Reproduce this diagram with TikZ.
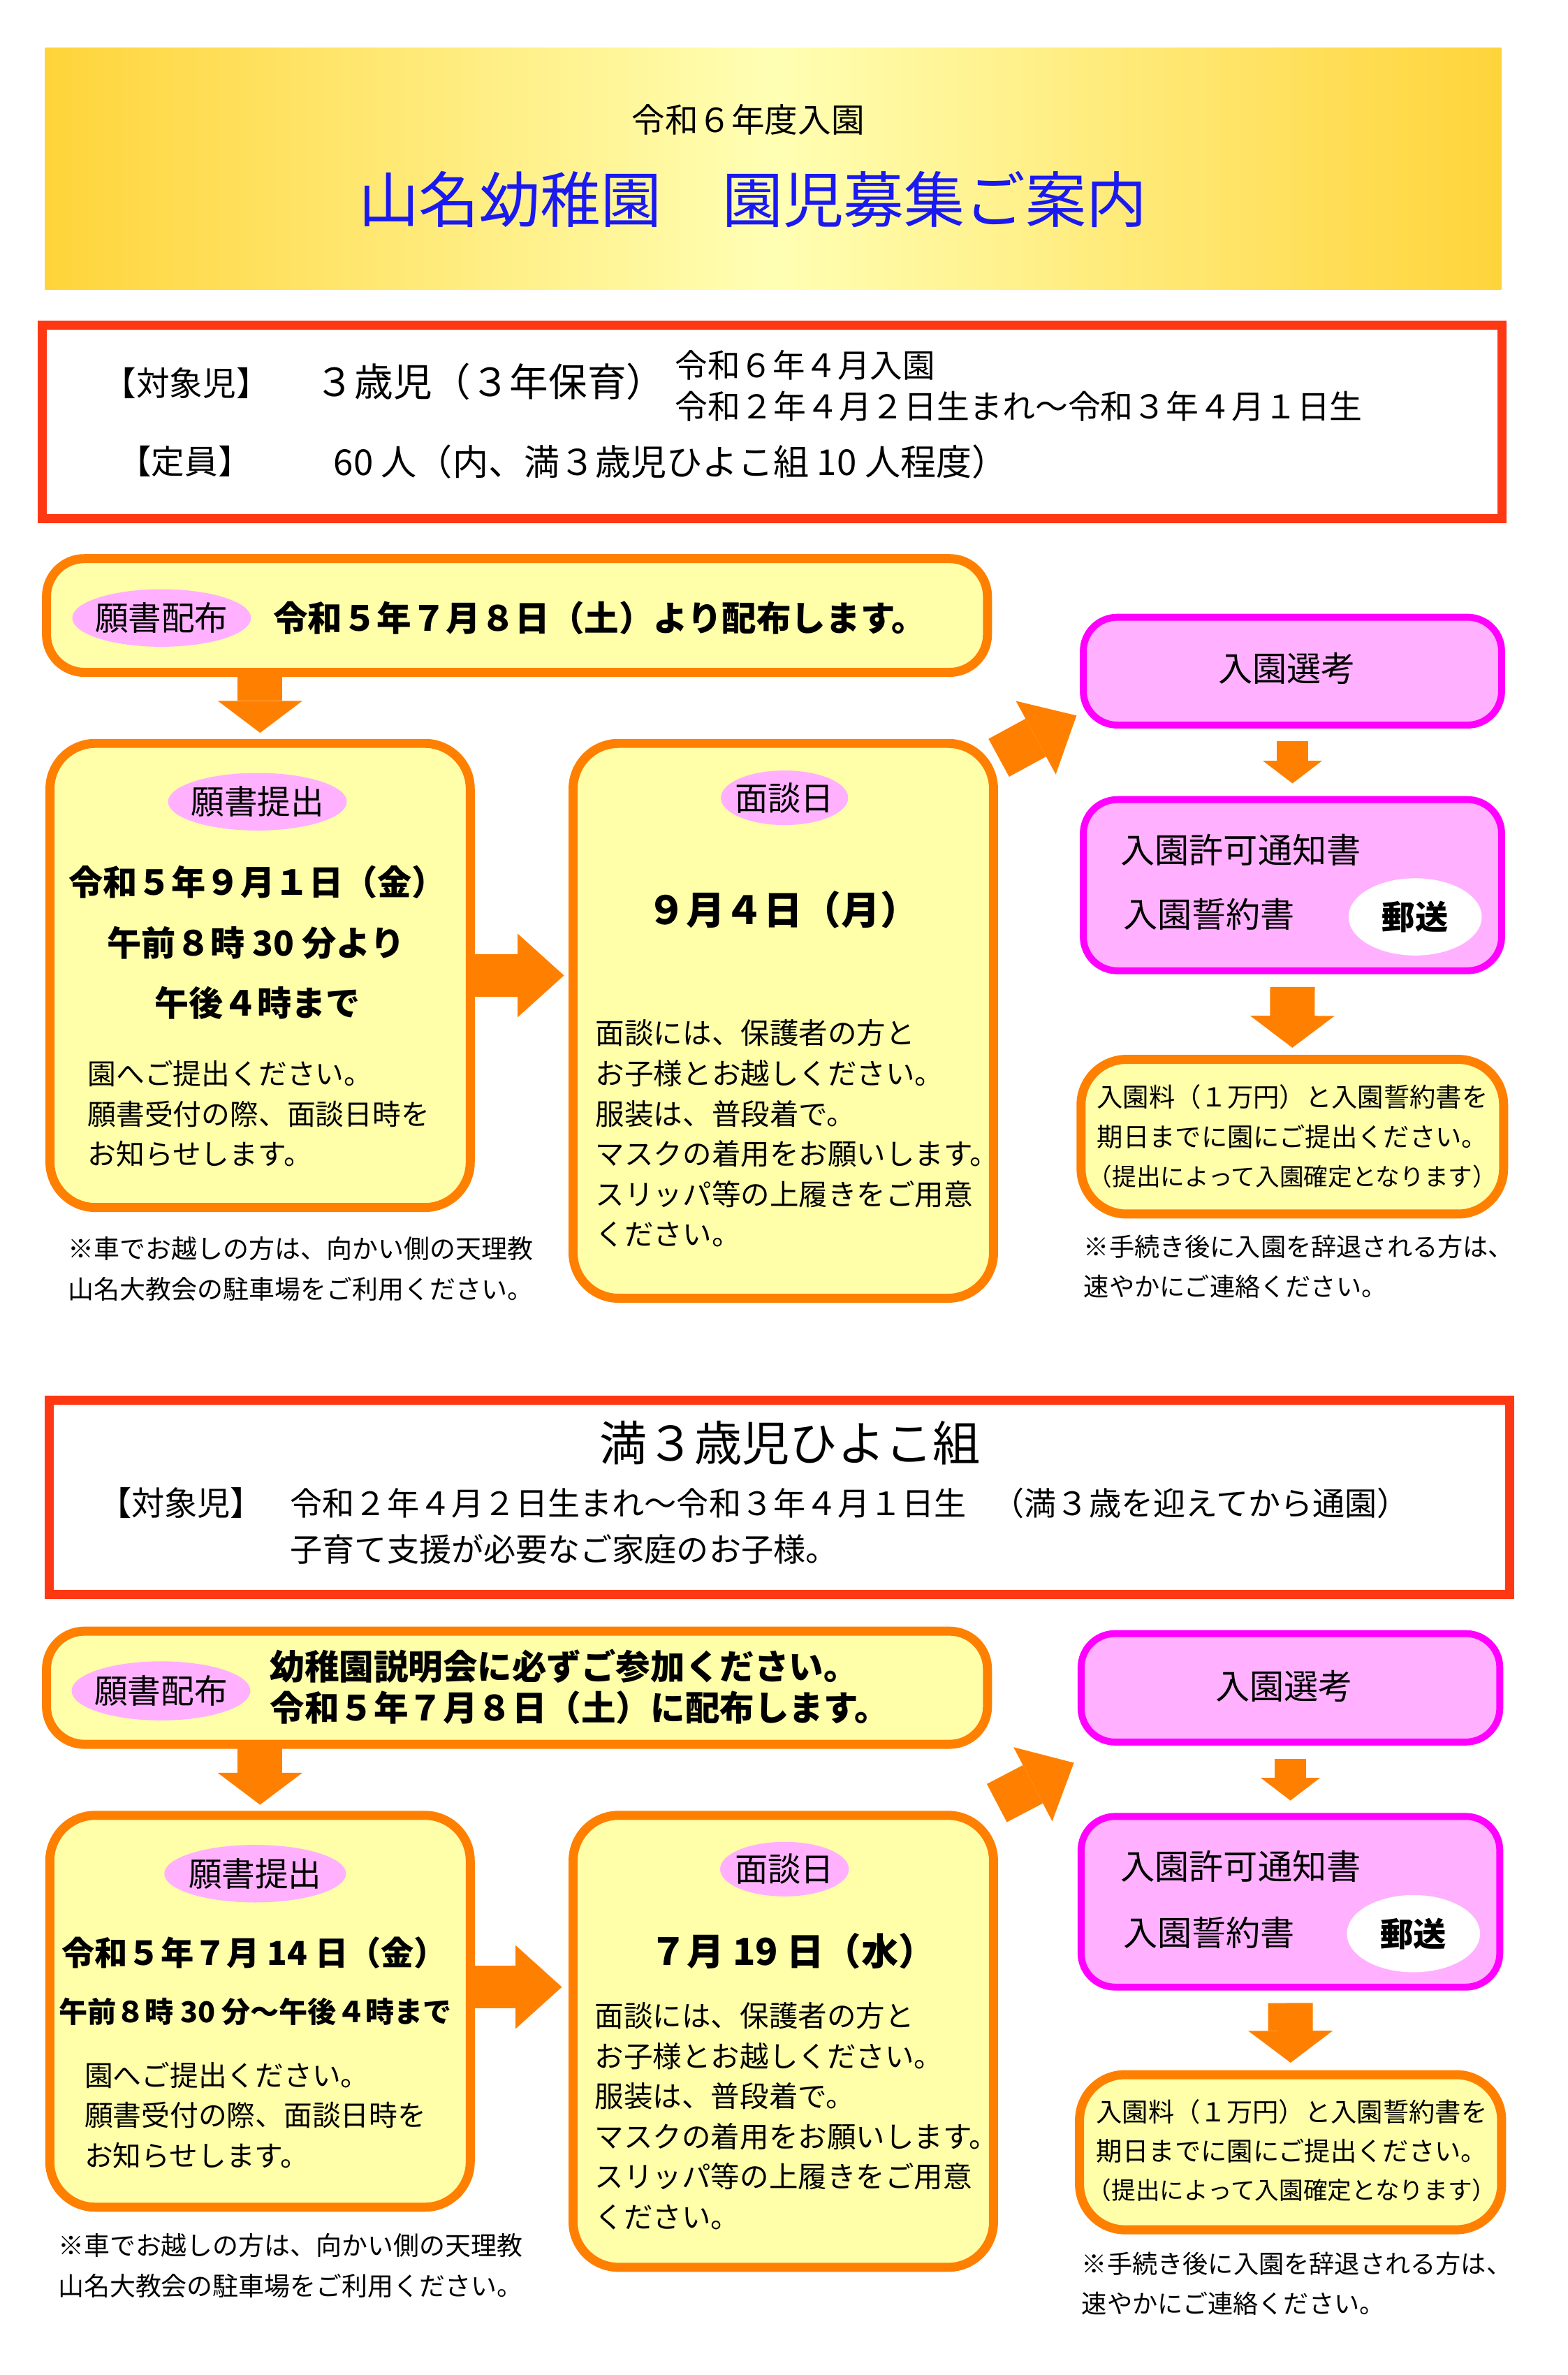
\documentclass[tikz,border=0pt]{standalone}
\usepackage{fontspec}
\setmainfont{Noto Sans CJK JP}
\usetikzlibrary{calc, fit, shapes.geometric, arrows.meta}
\newcommand{\fsz}[1]{\fontsize{#1}{#1}\selectfont}
\newcommand{\fsl}[2]{\fontsize{#1}{#2}\selectfont}
\definecolor{boxorange}{HTML}{FF8000}
\definecolor{paleyellow}{HTML}{FFFFAA}
\definecolor{lightpink}{HTML}{FFB0FF}
\definecolor{magentaline}{HTML}{FF00FF}
\definecolor{redline}{HTML}{FF3814}
\definecolor{bannergold}{HTML}{FFD43A}
\definecolor{bannerpale}{HTML}{FFFFB4}
\definecolor{titleblue}{HTML}{1A1AF0}
\tikzset{
  banner/.style={inner sep=0pt, outer sep=0pt, left color=bannergold, right color=bannergold, middle color=bannerpale},
  frame/.style={draw=redline, line width=3.4pt, fill=white, inner sep=0pt, outer sep=0pt},
  ybox/.style={draw=boxorange, line width=3.4pt, fill=paleyellow, rounded corners=#1, inner sep=0pt, outer sep=0pt},
  ybox/.default=0.5cm,
  pbox/.style={draw=magentaline, line width=2.6pt, fill=lightpink, rounded corners=0.45cm, inner sep=0pt, outer sep=0pt},
  tag/.style args={#1/#2}{ellipse, fill=lightpink, inner sep=0pt, minimum width=#1*0.02cm, minimum height=#2*0.02cm},
  post/.style={ellipse, fill=white, inner sep=0pt, minimum width=88*0.02cm, minimum height=51*0.02cm},
  txt/.style={anchor=west, inner sep=0pt},
  downarrow/.style={draw=boxorange, line width=16.8pt, -{Triangle[width=31.8pt, length=12pt, line width=0pt]}},
  sidearrow/.style={draw=boxorange, line width=16.2pt, -{Triangle[width=31.4pt, length=17.4pt, line width=0pt]}},
  smallarrow/.style={draw=boxorange, line width=11.8pt, -{Triangle[width=22.3pt, length=8.5pt, line width=0pt]}},
}
\begin{document}
\begin{tikzpicture}[x=0.02cm, y=-0.02cm]
    \useasboundingbox (0,0) rectangle (1035,1568);
    % heading
    \node[banner, fit={(29.7,31.8) (991.3,191)}] (00) {};
    \node[font=\fsz{12.5pt}] (01) at (494,78.8) {令和６年度入園};
    \node[font=\fsz{22.8pt}, text=titleblue] (02) at (497,131.8) {山名幼稚園　園児募集ご案内};
    % three year class
    \node[frame, fit={(28,214.8) (991.6,342.4)}] (10) {};
    \node[font=\fsz{12.5pt}] (10a) at (123,253) {【対象児】};
    \node[txt, font=\fsz{14.6pt}] (10b) at (208,251.8) {３歳児（３年保育）};
    \node[txt, font=\fsz{12.2pt}] (10c) at (445.5,241) {令和６年４月入園};
    \node[txt, font=\fsz{12.3pt}] (10d) at (445.5,268) {令和２年４月２日生まれ～令和３年４月１日生};
    \node[font=\fsz{12.5pt}] (10e) at (122,304.7) {【定員】};
    \node[txt, font=\fsz{13.4pt}] (10f) at (220,304.7) {60 人（内、満３歳児ひよこ組 10 人程度）};
    % boxes
    \node[ybox, fit={(30.7,368.8) (652,443.9)}] (11) {};
    \node[pbox, fit={(715.3,407.5) (991.5,478.7)}] (13) {};
    \node[ybox=0.6cm, fit={(33,490.8) (310.5,797.2)}] (21) {};
    \node[ybox=0.6cm, fit={(378.4,490.8) (656,857.1)}] (22) {};
    \node[pbox, fit={(715.3,527.9) (991.5,640.9)}] (23) {};
    \node[ybox=0.6cm, fit={(713.8,699.4) (992.8,801.5)}] (33) {};
    % vertical arrows
    \draw[downarrow] (11.south -| 21.north) -- ($(21.north)+(0,-7)$);
    \draw[smallarrow] ($(13.south)+(0,10.7)$) -- ($(23.north)+(0,-10.7)$);
    \draw[downarrow] ($(23.south)+(0,10.7)$) -- ($(33.north)+(0,-7.7)$);
    % horizontal arrows
    \draw[sidearrow] (21.east) -- ($(21.east -| 22.west)+(-6,0)$);
    \draw[sidearrow] ($(22.north east)+(3.5,9.5)$) -- ($(13.south west)+(-4.5,-6.3)$);
    % texts
    \node[tag=118/38] (11a) at (106.7,408) {};
    \node[font=\fsz{12.5pt}] (11b) at (11a) {願書配布};
    \node[txt, font=\fsz{13pt}\bfseries] (11c) at (180,408) {令和５年７月８日（土）より配布します。};
    \node[font=\fsz{12.9pt}] (13a) at (849.8,441.5) {入園選考};
    \node[tag=118/38] (21a) at (170,529.3) {};
    \node[font=\fsz{12.5pt}] (21b) at (21a) {願書提出};
    \node[font=\fsz{12.9pt}\bfseries] (21c) at (170,582.5) {令和５年９月１日（金）};
    \node[font=\fsz{12.9pt}\bfseries] (21d) at (169,622.4) {午前８時 30 分より};
    \node[font=\fsz{12.9pt}\bfseries] (21e) at (170,662.3) {午後４時まで};
    \node[txt, align=left, font=\fsl{10.7pt}{15.1pt}] (21f) at (57.6,735.4) {園へご提出ください。\\願書受付の際、面談日時を\\お知らせします。};
    \node[txt, align=left, font=\fsl{9.7pt}{15pt}] (21g) at (44.8,837.7) {※車でお越しの方は、向かい側の天理教\\山名大教会の駐車場をご利用ください。};
    \node[tag=84/36] (22a) at (518,526.7) {};
    \node[font=\fsz{12.4pt}] (22b) at (22a) {面談日};
    \node[font=\fsz{14.6pt}\bfseries] (22c) at (517,600.8) {９月４日（月）};
    \node[txt, align=left, font=\fsl{10.9pt}{15.1pt}] (22d) at (393,748.3) {面談には、保護者の方と\\お子様とお越しください。\\服装は、普段着で。\\マスクの着用をお願いします。\\スリッパ等の上履きをご用意\\ください。};
    \node[txt, font=\fsz{12.9pt}] (23a) at (739.6,561.4) {入園許可通知書};
    \node[txt, font=\fsz{12.9pt}] (23b) at (741.4,603.7) {入園誓約書};
    \node[post] (23c) at (934.4,605.3) {};
    \node[font=\fsz{12.4pt}\bfseries] (23d) at (23c) {郵送};
    \node[font=\fsz{9.8pt}] (33a) at (853.4,724.2) {入園料（１万円）と入園誓約書を};
    \node[font=\fsz{9.8pt}] (33b) at (853.4,750.4) {期日までに園にご提出ください。};
    \node[font=\fsz{9.1pt}] (33c) at (853.4,776.7) {（提出によって入園確定となります）};
    \node[txt, align=left, font=\fsl{9.5pt}{14.9pt}] (33d) at (715.3,836.2) {※手続き後に入園を辞退される方は、\\速やかにご連絡ください。};
    % chick class
    \node[frame, fit={(32.7,924.5) (997,1052.8)}] (40) {};
    \node[font=\fsz{17.9pt}] (40a) at (521.5,952.8) {満３歳児ひよこ組};
    \node[font=\fsz{12.4pt}] (40b) at (119.5,992.4) {【対象児】};
    \node[txt, font=\fsz{12.1pt}] (40c) at (191.4,992.4) {令和２年４月２日生まれ～令和３年４月１日生\hspace{0.8em}（満３歳を迎えてから通園）};
    \node[txt, font=\fsz{12.1pt}] (40d) at (191.4,1022.8) {子育て支援が必要なご家庭のお子様。};
    % boxes
    \node[ybox, fit={(30.7,1076.9) (652,1151.6)}] (41) {};
    \node[pbox, fit={(713.8,1078.5) (990.3,1150.1)}] (43) {};
    \node[ybox=0.6cm, fit={(32.9,1198.5) (310.5,1457.2)}] (51) {};
    \node[ybox=0.6cm, fit={(378.4,1198.5) (656,1496.9)}] (52) {};
    \node[pbox, fit={(713.8,1199.2) (990.3,1311.9)}] (53) {};
    \node[ybox=0.6cm, fit={(712.8,1369.7) (991.5,1472.1)}] (63) {};
    % vertical arrows
    \draw[downarrow] (41.south -| 51.north) -- ($(51.north)+(0,-7)$);
    \draw[smallarrow] ($(43.south)+(0,11.1)$) -- ($(53.north)+(0,-10.5)$);
    \draw[downarrow] ($(53.south)+(0,10.5)$) -- ($(63.north)+(0,-7.9)$);
    % horizontal arrows
    \draw[sidearrow] ($(51.east)+(0,-16)$) -- ($(51.east -| 52.west)+(-7.4,-16)$);
    \draw[sidearrow] ($(52.north east)+(2.2,-8.1)$) -- ($(43.south west)+(-4.7,13.7)$);
    % texts
    \node[tag=118/39] (41a) at (106.3,1116.3) {};
    \node[font=\fsz{12.5pt}] (41b) at (41a) {願書配布};
    \node[txt, align=left, font=\fsl{13pt}{15.5pt}\bfseries] (41c) at (178,1113.7) {幼稚園説明会に必ずご参加ください。\\令和５年７月８日（土）に配布します。};
    \node[font=\fsz{12.9pt}] (43a) at (848,1113.4) {入園選考};
    \node[tag=120/38] (51a) at (168.5,1237) {};
    \node[font=\fsz{12.5pt}] (51b) at (51a) {願書提出};
    \node[font=\fsz{12.4pt}\bfseries] (51c) at (168,1289) {令和５年７月 14 日（金）};
    \node[font=\fsz{10.8pt}\bfseries] (51d) at (168.5,1328) {午前８時 30 分～午後４時まで};
    \node[txt, align=left, font=\fsl{10.7pt}{15.1pt}] (51e) at (55.5,1396.6) {園へご提出ください。\\願書受付の際、面談日時を\\お知らせします。};
    \node[txt, align=left, font=\fsl{9.7pt}{15pt}] (51f) at (38,1495.8) {※車でお越しの方は、向かい側の天理教\\山名大教会の駐車場をご利用ください。};
    \node[tag=85/36] (52a) at (518,1234) {};
    \node[font=\fsz{12.4pt}] (52b) at (52a) {面談日};
    \node[font=\fsz{14pt}\bfseries] (52c) at (523.5,1288) {７月 19 日（水）};
    \node[txt, align=left, font=\fsl{10.9pt}{15.1pt}] (52d) at (392.5,1397) {面談には、保護者の方と\\お子様とお越しください。\\服装は、普段着で。\\マスクの着用をお願いします。\\スリッパ等の上履きをご用意\\ください。};
    \node[txt, font=\fsz{12.9pt}] (53a) at (739.6,1232.4) {入園許可通知書};
    \node[txt, font=\fsz{12.9pt}] (53b) at (741.4,1276.1) {入園誓約書};
    \node[post] (53c) at (933.3,1276.6) {};
    \node[font=\fsz{12.4pt}\bfseries] (53d) at (53c) {郵送};
    \node[font=\fsz{9.8pt}] (63a) at (853,1394.2) {入園料（１万円）と入園誓約書を};
    \node[font=\fsz{9.8pt}] (63b) at (853,1420.1) {期日までに園にご提出ください。};
    \node[font=\fsz{9.1pt}] (63c) at (853,1446) {（提出によって入園確定となります）};
    \node[txt, align=left, font=\fsl{9.5pt}{14.9pt}] (63d) at (714,1507.5) {※手続き後に入園を辞退される方は、\\速やかにご連絡ください。};
\end{tikzpicture}
\end{document}
